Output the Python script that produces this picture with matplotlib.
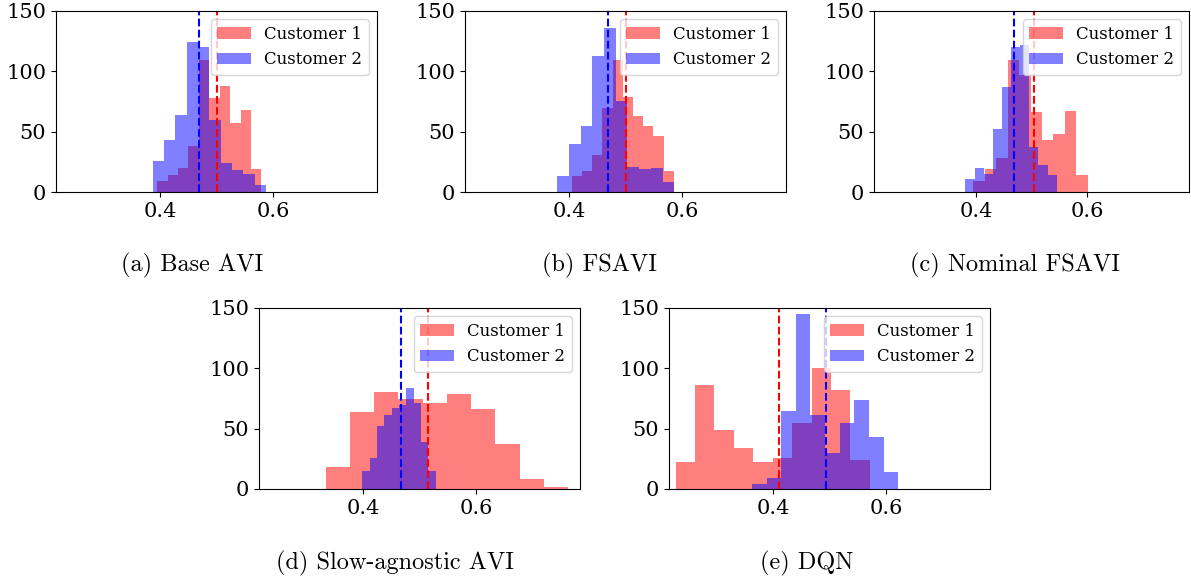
import numpy as np
import matplotlib.pyplot as plt

plt.rcParams['font.family'] = 'DejaVu Serif'

# panel captions
captions = ['(a) Base AVI', '(b) FSAVI', '(c) Nominal FSAVI',
            '(d) Slow-agnostic AVI', '(e) DQN']

# histogram counts (10 bins each) and bin ranges, customer 1 (red) / customer 2 (blue)
c1_counts = [
    [9, 14, 20, 38, 109, 78, 88, 57, 68, 19],
    [13, 17, 31, 70, 109, 79, 63, 55, 46, 17],
    [9, 19, 28, 109, 97, 66, 43, 48, 67, 14],
    [18, 64, 80, 75, 71, 79, 66, 37, 8, 2],
    [22, 86, 49, 34, 22, 26, 55, 100, 82, 24],
]
c1_range = [(0.395, 0.579), (0.405, 0.585), (0.395, 0.601), (0.334, 0.762), (0.228, 0.571)]

c2_counts = [
    [26, 43, 64, 124, 120, 60, 24, 18, 15, 6],
    [13, 40, 55, 113, 136, 75, 21, 19, 20, 8],
    [11, 20, 15, 52, 87, 120, 122, 37, 22, 14],
    [15, 26, 52, 61, 67, 70, 84, 71, 39, 15],
    [4, 9, 65, 145, 61, 30, 55, 74, 43, 14],
]
c2_range = [(0.387, 0.587), (0.379, 0.586), (0.381, 0.545), (0.399, 0.528), (0.363, 0.621)]

# mean lines
c1_mean = [0.501, 0.5006, 0.5047, 0.515, 0.4105]
c2_mean = [0.468, 0.468, 0.468, 0.4669, 0.4942]

W, H = 1191, 580
fig = plt.figure(figsize=(W/100, H/100), dpi=100)

# axes boxes in pixels: left, top, right, bottom
boxes = [(56, 11, 377, 192), (465, 11, 786, 192), (874, 11, 1189, 192),
         (259, 308, 580, 489), (669, 308, 990, 489)]
cap_pos = [(192, 265), (600, 265), (1015, 265), (395, 563), (807, 563)]

for i in range(5):
    l, t, r, b = boxes[i]
    ax = fig.add_axes([l/W, 1 - b/H, (r - l)/W, (b - t)/H])

    e1 = np.linspace(*c1_range[i], 11)
    e2 = np.linspace(*c2_range[i], 11)
    ax.hist(e1[:-1], bins=e1, weights=c1_counts[i], color='red', alpha=0.5, label='Customer 1')
    ax.hist(e2[:-1], bins=e2, weights=c2_counts[i], color='blue', alpha=0.5, label='Customer 2')
    ax.axvline(c1_mean[i], color='red', linestyle='--')
    ax.axvline(c2_mean[i], color='blue', linestyle='--')

    ax.set_xlim(0.2165, 0.783)
    ax.set_ylim(0, 150)
    ax.set_xticks([0.4, 0.6])
    ax.set_yticks([0, 50, 100, 150])
    ax.tick_params(labelsize=15)
    ax.legend(loc='upper right', fontsize=12)

    cx, cy = cap_pos[i]
    fig.text(cx/W, 1 - cy/H, captions[i], ha='center', va='center',
             fontsize=17.5, family='cmr10')

plt.savefig('out.png', dpi=100)
